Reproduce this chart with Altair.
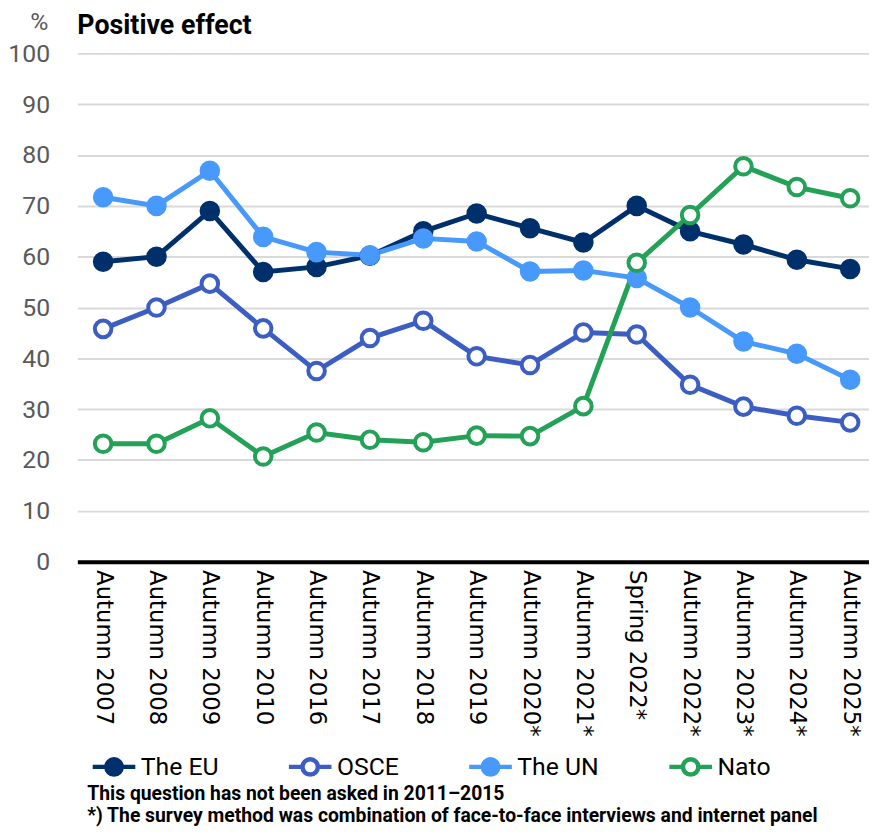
import json
import altair as alt
import pandas as pd

periods = ["Autumn 2007", "Autumn 2008", "Autumn 2009", "Autumn 2010", "Autumn 2016",
           "Autumn 2017", "Autumn 2018", "Autumn 2019", "Autumn 2020*", "Autumn 2021*",
           "Spring 2022*", "Autumn 2022*", "Autumn 2023*", "Autumn 2024*", "Autumn 2025*"]
series_names = ["The EU", "OSCE", "The UN", "Nato"]
eu = [59, 60, 69, 57, 58, 60.2, 65, 68.5, 65.6, 62.8, 70, 65, 62.4, 59.4, 57.6]
osce = [45.8, 50, 54.7, 45.9, 37.5, 44, 47.4, 40.4, 38.7, 45.1, 44.7, 34.8, 30.5, 28.7, 27.4]
un = [71.7, 70, 76.9, 63.9, 60.9, 60.3, 63.6, 63, 57.1, 57.3, 55.8, 50, 43.3, 40.9, 35.8]
nato = [23.2, 23.2, 28.2, 20.7, 25.4, 24, 23.5, 24.8, 24.7, 30.6, 58.8, 68.2, 77.8, 73.7, 71.5]
stroke_colors = ["#00306B", "#3C5EC2", "#4799FC", "#22A157"]
fill_colors = ["#00306B", "#FFFFFF", "#4799FC", "#FFFFFF"]
chart_title = ["Positive effect"]
footnote_1 = ["This question has not been asked in 2011\u20132015"]
footnote_2 = ["*) The survey method was combination of face-to-face interviews and internet panel"]

rows = []
for s, (name, vals) in enumerate(zip(series_names, [eu, osce, un, nato])):
    for i, (p, v) in enumerate(zip(periods, vals)):
        rows.append({"idx": i, "period": p, "series": name, "sid": s, "value": v})
df = pd.DataFrame(rows)

FONT = "Roboto, Lato, sans-serif"
label_expr = json.dumps(periods) + "[datum.value]"

x_enc = alt.X("idx:Q", title=None,
              scale=alt.Scale(domain=[-0.483, 14.353], nice=False, zero=False),
              axis=alt.Axis(values=list(range(len(periods))), labelExpr=label_expr,
                            labelAngle=90, labelAlign="left", labelBaseline="middle",
                            labelFont="DejaVu Sans", labelFontSize=23, labelColor="#000000",
                            labelPadding=8, ticks=False, domainColor="#000000",
                            domainWidth=4, grid=False, labelOverlap=False))
y_enc = alt.Y("value:Q", title="%",
              scale=alt.Scale(domain=[0, 100], nice=False),
              axis=alt.Axis(values=list(range(0, 101, 10)), ticks=False, domain=False,
                            labelFont=FONT, labelFontSize=25, labelColor="#595959",
                            labelPadding=28, gridColor="#D9D9D9", gridWidth=2,
                            titleAngle=0, titleX=-39, titleY=-24, titleAlign="center",
                            titleBaseline="alphabetic", titleFont=FONT,
                            titleFontSize=25, titleFontWeight="normal",
                            titleColor="#595959"))

base = alt.Chart(df)

lines = base.mark_line(strokeWidth=5).encode(
    x=x_enc, y=y_enc,
    color=alt.Color("sid:N", scale=alt.Scale(domain=[0, 1, 2, 3], range=stroke_colors),
                    legend=None),
    order="idx:Q",
)

legend_cfg = dict(
    title=None, orient="none", legendX=13, legendY=696, direction="horizontal",
    columns=4, columnPadding=61,
    symbolType="M-1,0H-0.36M0.36,0H1M-0.36,0A0.36,0.36 0 1,0 0.36,0A0.36,0.36 0 1,0 -0.36,0Z",
    symbolSize=1849, symbolStrokeWidth=4.5, symbolOffset=0,
    labelFont=FONT, labelFontSize=25, labelColor="#000000", labelOffset=3,
)

points = base.mark_point(size=280, strokeWidth=4, opacity=1, filled=False).encode(
    x=x_enc, y=y_enc,
    stroke=alt.Stroke("series:N", scale=alt.Scale(domain=series_names, range=stroke_colors),
                      legend=alt.Legend(**legend_cfg)),
    fill=alt.Fill("series:N", scale=alt.Scale(domain=series_names, range=fill_colors),
                  legend=alt.Legend(**legend_cfg)),
)

title_text = alt.Chart(pd.DataFrame({"t": chart_title})).mark_text(
    align="left", baseline="alphabetic", font=FONT, fontSize=27, fontWeight="bold",
    color="#000000",
).encode(x=alt.value(0), y=alt.value(-20), text="t:N")


def note(lines_list, y):
    return alt.Chart(pd.DataFrame({"t": lines_list})).mark_text(
        align="left", baseline="alphabetic", font=FONT, fontSize=19.5, fontWeight="bold",
        color="#000000",
    ).encode(x=alt.value(10), y=alt.value(y), text="t:N")


notes1 = note(footnote_1, 754)
notes2 = note(footnote_2, 776)

chart = alt.layer(lines, points, title_text, notes1, notes2).properties(
    width=799, height=513,
    autosize=alt.AutoSizeParams(type="none"),
    padding={"left": 70, "top": 42, "right": 0, "bottom": 265},
).configure_view(stroke=None)

chart.save("out.html", embed_options={"renderer": "svg", "actions": False})
